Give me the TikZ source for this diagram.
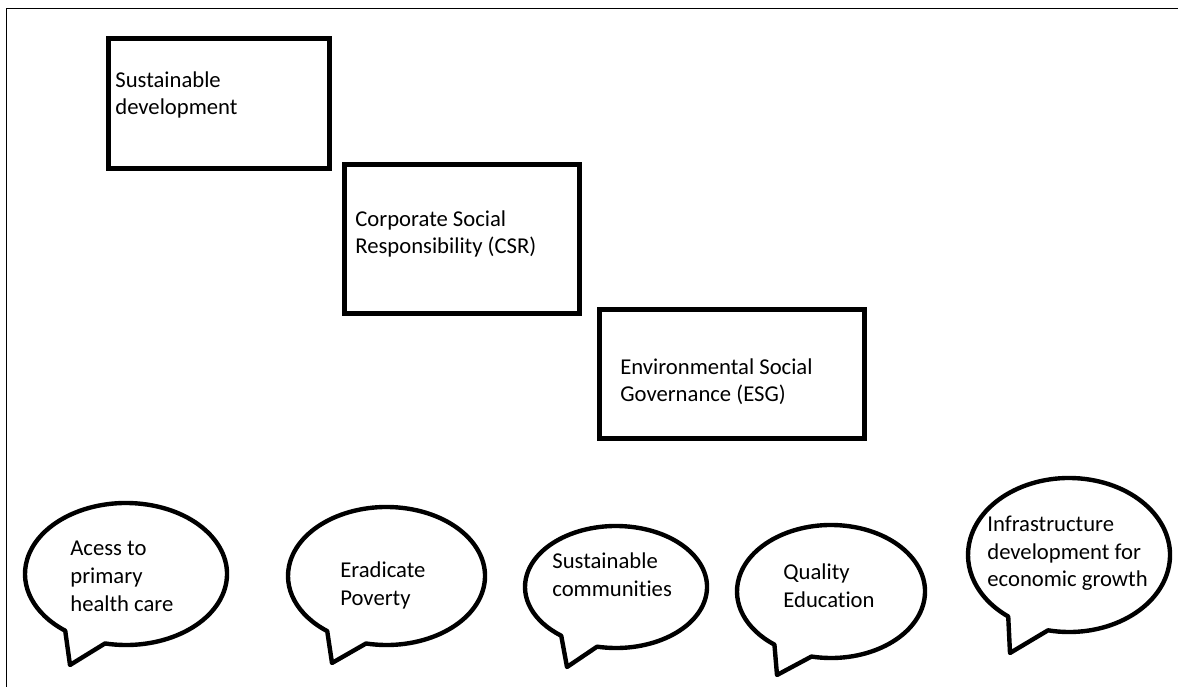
\documentclass[tikz,border=0pt]{standalone}
\usepackage{fontspec}
\setmainfont{Carlito}[Ligatures=CommonOff]
\usetikzlibrary{calc}

\begin{document}
\begin{tikzpicture}[
  box/.style={black, line width=2.8pt},
  bubble/.style={black, line width=2.5pt, line join=round},
  txt/.style={anchor=base west, align=left, inner sep=0pt, font=\fontsize{12.9}{15.9}\selectfont}
]
\useasboundingbox (0,0) rectangle (23.56,13.74);

% frame
\draw[line width=1.1pt] (23.56,13.57) -- (0.13,13.57) -- (0.13,0);

% boxes (text placed at the baseline of its last line)
\draw[box] (2.17,12.97) rectangle (6.59,10.37);
\node[txt] (sd) at (2.30,11.44) {Sustainable\\development};

\draw[box] (6.89,10.45) rectangle (11.59,7.47);
\node[txt] (csr) at (7.10,8.66) {Corporate Social\\Responsibility (CSR)};

\draw[box] (11.99,7.55) rectangle (17.29,4.97);
\node[txt] (esg) at (12.40,5.70) {Environmental Social\\Governance (ESG)};

% bubbles
\coordinate (C1) at (2.52,2.26);
\coordinate (T1) at (1.40,0.44);
\draw[bubble] (C1) ++(258:2.02 and 1.42) arc[start angle=258, end angle=593, x radius=2.02, y radius=1.42] -- (T1) -- cycle;
\node[txt] (health) at (1.40,1.52) {Acess to\\primary\\health care};

\coordinate (C2) at (7.73,2.22);
\coordinate (T2) at (6.64,0.48);
\draw[bubble] (C2) ++(258:1.97 and 1.38) arc[start angle=258, end angle=593, x radius=1.97, y radius=1.38] -- (T2) -- cycle;
\node[txt] (poverty) at (6.80,1.64) {Eradicate\\Poverty};

\coordinate (C3) at (12.32,2.00);
\coordinate (T3) at (11.34,0.40);
\draw[bubble] (C3) ++(258:1.82 and 1.22) arc[start angle=258, end angle=593, x radius=1.82, y radius=1.22] -- (T3) -- cycle;
\node[txt] (communities) at (11.04,1.82) {Sustainable\\communities};

\coordinate (C4) at (16.62,1.91);
\coordinate (T4) at (15.54,0.24);
\draw[bubble] (C4) ++(258:1.88 and 1.33) arc[start angle=258, end angle=593, x radius=1.88, y radius=1.33] -- (T4) -- cycle;
\node[txt] (education) at (15.66,1.60) {Quality\\Education};

\coordinate (C5) at (21.38,2.64);
\coordinate (T5) at (20.20,0.68);
\draw[bubble] (C5) ++(258:2.02 and 1.54) arc[start angle=258, end angle=593, x radius=2.02, y radius=1.54] -- (T5) -- cycle;
\node[txt] (growth) at (19.74,2.00) {Infrastructure\\development for\\economic growth};

\end{tikzpicture}
\end{document}
